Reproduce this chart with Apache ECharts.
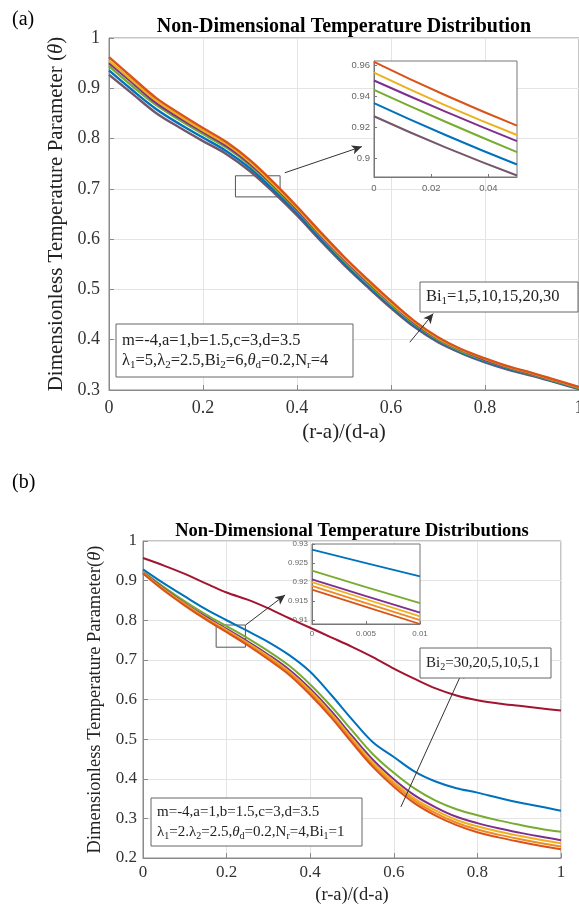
<!DOCTYPE html>
<html><head><meta charset="utf-8">
<script src="https://cdn.jsdelivr.net/npm/echarts@6/dist/echarts.min.js"></script>
<style>html,body{margin:0;padding:0;background:#fff}#c{width:579px;height:904px}</style>
</head><body><div id="c"></div>
<script>
// ---------- Data: panel (a) ----------
const xA = [0,0.05,0.1,0.15,0.2,0.25,0.3,0.35,0.4,0.45,0.5,0.55,0.6,0.65,0.7,0.75,0.8,0.85,0.9,0.95,1];
const aOrange = [0.962,0.921,0.881,0.850,0.821,0.793,0.757,0.713,0.665,0.614,0.565,0.520,0.477,0.437,0.405,0.381,0.363,0.347,0.334,0.320,0.306];
const aYellow = [0.955,0.915,0.876,0.845,0.816,0.789,0.753,0.709,0.662,0.610,0.562,0.517,0.474,0.435,0.403,0.380,0.362,0.346,0.333,0.319,0.305];
const aPurple = [0.950,0.911,0.871,0.841,0.813,0.785,0.750,0.707,0.659,0.608,0.560,0.515,0.473,0.433,0.402,0.379,0.360,0.345,0.332,0.318,0.305];
const aGreen  = [0.944,0.904,0.867,0.837,0.809,0.782,0.747,0.704,0.657,0.606,0.557,0.512,0.470,0.431,0.400,0.377,0.359,0.344,0.331,0.317,0.304];
const aBlue   = [0.9355,0.896,0.859,0.829,0.802,0.775,0.741,0.698,0.652,0.601,0.553,0.508,0.467,0.428,0.398,0.375,0.357,0.342,0.330,0.316,0.303];
const aMauve  = [0.927,0.889,0.851,0.822,0.795,0.769,0.735,0.693,0.647,0.597,0.549,0.505,0.463,0.425,0.395,0.373,0.355,0.340,0.328,0.315,0.302];
// inset (a)
const xInsetA = [0,0.025,0.05];
const iaOrange = [0.962,0.9405,0.921];
const iaYellow = [0.955,0.934,0.915];
const iaPurple = [0.950,0.930,0.911];
const iaGreen  = [0.944,0.9235,0.904];
const iaBlue   = [0.9355,0.915,0.896];
const iaMauve  = [0.927,0.907,0.889];
// ---------- Data: panel (b) ----------
const xB = [0,0.05,0.1,0.15,0.2,0.25,0.3,0.35,0.4,0.45,0.5,0.55,0.6,0.65,0.7,0.75,0.8,0.85,0.9,0.95,1];
const bCrimson = [0.957,0.938,0.917,0.893,0.870,0.852,0.830,0.805,0.781,0.757,0.733,0.707,0.678,0.652,0.628,0.610,0.598,0.590,0.584,0.578,0.572];
const bBlue   = [0.9285,0.893,0.860,0.828,0.800,0.773,0.745,0.712,0.670,0.612,0.550,0.492,0.455,0.418,0.393,0.376,0.365,0.352,0.340,0.330,0.319];
const bGreen  = [0.923,0.884,0.848,0.815,0.785,0.755,0.722,0.685,0.638,0.583,0.522,0.462,0.415,0.375,0.345,0.323,0.308,0.295,0.284,0.274,0.266];
const bPurple = [0.921,0.880,0.843,0.809,0.778,0.747,0.713,0.675,0.627,0.571,0.508,0.448,0.399,0.358,0.328,0.304,0.288,0.275,0.264,0.254,0.245];
const bYellow = [0.920,0.878,0.841,0.806,0.775,0.743,0.709,0.670,0.622,0.565,0.502,0.441,0.392,0.350,0.320,0.296,0.280,0.267,0.256,0.246,0.237];
const bOrange = [0.919,0.877,0.839,0.804,0.772,0.740,0.705,0.666,0.617,0.560,0.496,0.435,0.386,0.344,0.313,0.289,0.272,0.259,0.248,0.238,0.229];
const bRed    = [0.918,0.875,0.837,0.802,0.770,0.737,0.701,0.662,0.612,0.555,0.491,0.430,0.380,0.338,0.307,0.283,0.265,0.252,0.241,0.231,0.222];
// inset (b)
const xInsetB = [0,0.005,0.01];
const ibBlue   = [0.9285,0.925,0.9215];
const ibGreen  = [0.923,0.9187,0.9145];
const ibPurple = [0.9207,0.9163,0.912];
const ibYellow = [0.920,0.9155,0.911];
const ibOrange = [0.919,0.9145,0.910];
const ibRed    = [0.918,0.9135,0.909];
// tick labels
const ticksInsetAX = [0,0.02,0.04];
const ticksInsetAY = [0.9,0.92,0.94,0.96];
const ticksInsetBX = [0,0.005,0.01];
const ticksInsetBY = [0.91,0.915,0.92,0.925,0.93];

// ---------- Styling ----------
const C = {blue:'#0072BD', orange:'#D95319', yellow:'#EDB120', purple:'#7E2F8E', green:'#77AC30', mauve:'#74566B', crimson:'#A2142F', lorange:'#F08A24'};
const SERIF = '"Liberation Serif","Times New Roman",serif';
const SANS = '"Liberation Sans",Arial,sans-serif';
const pair = (xs, ys) => xs.map((x,i)=>[x, ys[i]]);

function mainX(grid, fs, nfs, gap, margin){
  return {gridIndex:grid, type:'value', min:0, max:1, interval:0.2,
    axisLine:{show:true, lineStyle:{color:'#8a8a8a'}},
    axisTick:{show:true, inside:true, length:5, lineStyle:{color:'#8a8a8a'}},
    splitLine:{show:true, lineStyle:{color:'#e4e4e4'}},
    axisLabel:{fontFamily:SERIF, fontSize:fs, color:'#333', margin:margin},
    name:'(r-a)/(d-a)', nameLocation:'middle', nameGap:gap,
    nameTextStyle:{fontFamily:SERIF, fontSize:nfs, color:'#222'}};
}
function mainY(grid, min, fs, nfs, gap, margin, name){
  return {gridIndex:grid, type:'value', min:min, max:1, interval:0.1,
    axisLine:{show:true, lineStyle:{color:'#8a8a8a'}},
    axisTick:{show:true, inside:true, length:5, lineStyle:{color:'#8a8a8a'}},
    splitLine:{show:true, lineStyle:{color:'#e4e4e4'}},
    axisLabel:{fontFamily:SERIF, fontSize:fs, color:'#333', margin:margin},
    name:name, nameLocation:'middle', nameGap:gap,
    nameTextStyle:{fontFamily:SERIF, fontSize:nfs, color:'#222',
      rich:{i:{fontFamily:SERIF, fontSize:nfs, fontStyle:'italic', color:'#222'}}}};
}
function insetX(grid, min, max, vals, fs){
  return {gridIndex:grid, type:'value', min:min, max:max, z:6,
    axisLine:{show:true, lineStyle:{color:'#777'}},
    axisTick:{show:true, inside:true, length:3, customValues:vals, lineStyle:{color:'#777'}},
    splitLine:{show:false},
    axisLabel:{fontFamily:SANS, fontSize:fs, color:'#666', margin:6, customValues:vals}};
}
function insetY(grid, min, max, vals, fs){
  return {gridIndex:grid, type:'value', min:min, max:max, z:6,
    axisLine:{show:true, lineStyle:{color:'#777'}},
    axisTick:{show:true, inside:true, length:3, customValues:vals, lineStyle:{color:'#777'}},
    splitLine:{show:false},
    axisLabel:{fontFamily:SANS, fontSize:fs, color:'#666', margin:4, customValues:vals}};
}
function line(xi, yi, data, color, w, z, extra){
  return Object.assign({type:'line', xAxisIndex:xi, yAxisIndex:yi, data:data, showSymbol:false, symbol:'none',
    smooth:0.35, lineStyle:{color:color, width:w}, itemStyle:{color:color}, z:z, silent:true}, extra||{});
}
const arrowStyle = {silent:true, symbol:['none','arrow'], symbolSize:[7,10], lineStyle:{color:'#333', width:1, type:'solid'}, label:{show:false}, emphasis:{disabled:true}};
const boxStyle = {silent:true, itemStyle:{color:'rgba(0,0,0,0)', borderColor:'#555', borderWidth:1}, label:{show:false}, emphasis:{disabled:true}};

const series = [
  // panel (a) main
  line(0,0,pair(xA,aMauve),C.mauve,2.4,2),
  line(0,0,pair(xA,aBlue),C.blue,2.4,2),
  line(0,0,pair(xA,aGreen),C.green,2.4,2),
  line(0,0,pair(xA,aPurple),C.purple,2.4,2),
  line(0,0,pair(xA,aYellow),C.yellow,2.4,2),
  line(0,0,pair(xA,aOrange),C.orange,2.4,2,{
    markArea:Object.assign({data:[[{coord:[0.269,0.726]},{coord:[0.364,0.684]}]]}, boxStyle),
    markLine:Object.assign({data:[[{coord:[0.374,0.732]},{coord:[0.538,0.784]}],[{coord:[0.64,0.395]},{coord:[0.69,0.452]}]]}, arrowStyle)
  }),
  // panel (b) main
  line(1,1,pair(xB,bCrimson),C.crimson,2,2),
  line(1,1,pair(xB,bBlue),C.blue,2,2),
  line(1,1,pair(xB,bGreen),C.green,2,2),
  line(1,1,pair(xB,bPurple),C.purple,2,2),
  line(1,1,pair(xB,bYellow),C.yellow,2,2),
  line(1,1,pair(xB,bOrange),C.lorange,2,2),
  line(1,1,pair(xB,bRed),C.orange,2,2,{
    markArea:Object.assign({data:[[{coord:[0.175,0.788]},{coord:[0.245,0.732]}]]}, boxStyle),
    markLine:Object.assign({data:[[{coord:[0.2455,0.788]},{coord:[0.34,0.864]}],[{coord:[0.617,0.329]},{coord:[0.768,0.679]}]]}, arrowStyle)
  }),
  // inset (a)
  line(2,2,pair(xInsetA,iaMauve),C.mauve,2,7,{smooth:true}),
  line(2,2,pair(xInsetA,iaBlue),C.blue,2,7,{smooth:true}),
  line(2,2,pair(xInsetA,iaGreen),C.green,2,7,{smooth:true}),
  line(2,2,pair(xInsetA,iaPurple),C.purple,2,7,{smooth:true}),
  line(2,2,pair(xInsetA,iaYellow),C.yellow,2,7,{smooth:true}),
  line(2,2,pair(xInsetA,iaOrange),C.orange,2,7,{smooth:true}),
  // inset (b)
  line(3,3,pair(xInsetB,ibBlue),C.blue,1.8,7,{smooth:true}),
  line(3,3,pair(xInsetB,ibGreen),C.green,1.8,7,{smooth:true}),
  line(3,3,pair(xInsetB,ibPurple),C.purple,1.8,7,{smooth:true}),
  line(3,3,pair(xInsetB,ibYellow),C.yellow,1.8,7,{smooth:true}),
  line(3,3,pair(xInsetB,ibOrange),C.lorange,1.8,7,{smooth:true}),
  line(3,3,pair(xInsetB,ibRed),C.orange,1.8,7,{smooth:true})
];

const subRich = (fs) => ({
  s:{fontFamily:SERIF, fontSize:Math.round(fs*0.68), fill:'#222', padding:[Math.round(fs*0.55),0,0,0]},
  i:{fontFamily:SERIF, fontSize:fs, fontStyle:'italic', fill:'#222'}
});
function textBox(x, y, w, h, lines, fs, lh){
  return {type:'group', z:30, children:[
    {type:'rect', shape:{x:x, y:y, width:w, height:h}, style:{fill:'#fff', stroke:'#666', lineWidth:1}, z:30},
    {type:'text', x:x+6, y:y+h/2, z:31, style:{text:lines.join('\n'), fontFamily:SERIF, fontSize:fs, fill:'#222',
      lineHeight:lh, verticalAlign:'middle', align:'left', rich:subRich(fs)}}
  ]};
}

const graphic = [
  {type:'text', x:12, y:20, z:30, style:{text:'(a)', fontFamily:SERIF, fontSize:20, fill:'#000', verticalAlign:'middle'}},
  {type:'text', x:12, y:483, z:30, style:{text:'(b)', fontFamily:SERIF, fontSize:20, fill:'#000', verticalAlign:'middle'}},
  {type:'text', x:344, y:27, z:30, style:{text:'Non-Dimensional Temperature Distribution', fontFamily:SERIF, fontWeight:'bold', fontSize:20, fill:'#000', align:'center', verticalAlign:'middle'}},
  {type:'text', x:352, y:531, z:30, style:{text:'Non-Dimensional Temperature Distributions', fontFamily:SERIF, fontWeight:'bold', fontSize:18.5, fill:'#000', align:'center', verticalAlign:'middle'}},
  textBox(420, 282, 158, 30, ['Bi{s|1}=1,5,10,15,20,30'], 16.5, 22),
  textBox(116, 324, 237, 53, ['m=-4,a=1,b=1.5,c=3,d=3.5', 'λ{s|1}=5,λ{s|2}=2.5,Bi{s|2}=6,{i|θ}{s|d}=0.2,N{s|r}=4'], 16.5, 20),
  textBox(420, 648, 131, 30, ['Bi{s|2}=30,20,5,10,5,1'], 15, 22),
  textBox(151, 798, 211, 48, ['m=-4,a=1,b=1.5,c=3,d=3.5', 'λ{s|1}=2.λ{s|2}=2.5,{i|θ}{s|d}=0.2,N{s|r}=4,Bi{s|1}=1'], 15, 20)
];

const option = {
  animation:false,
  backgroundColor:'#fff',
  grid:[
    {left:109, top:38, width:470, height:352, show:true, borderColor:'#8a8a8a', borderWidth:1, backgroundColor:'transparent', outerBoundsMode:'none', containLabel:false},
    {left:143, top:541, width:418, height:317, show:true, borderColor:'#8a8a8a', borderWidth:1, backgroundColor:'transparent', outerBoundsMode:'none', containLabel:false},
    {left:374, top:61, width:143, height:116, show:true, borderColor:'#777', borderWidth:1, backgroundColor:'#fff', z:5, outerBoundsMode:'none', containLabel:false},
    {left:312, top:544, width:108, height:80, show:true, borderColor:'#777', borderWidth:1, backgroundColor:'#fff', z:5, outerBoundsMode:'none', containLabel:false}
  ],
  xAxis:[
    mainX(0, 18, 21, 32, 9),
    mainX(1, 17, 18.5, 28, 6),
    insetX(2, 0, 0.05, ticksInsetAX, 9.5),
    insetX(3, 0, 0.01, ticksInsetBX, 8)
  ],
  yAxis:[
    mainY(0, 0.3, 18, 21, 33, 9, 'Dimensionless Temperature Parameter ({i|θ})'),
    mainY(1, 0.2, 17, 18.5, 32, 6, 'Dimensionless Temperature Parameter({i|θ})'),
    insetY(2, 0.888, 0.9625, ticksInsetAY, 9.5),
    insetY(3, 0.909, 0.93, ticksInsetBY, 8)
  ],
  series:series,
  graphic:graphic
};
const chart = echarts.init(document.getElementById('c'), null, {renderer:'canvas'});
chart.setOption(option);
</script></body></html>
